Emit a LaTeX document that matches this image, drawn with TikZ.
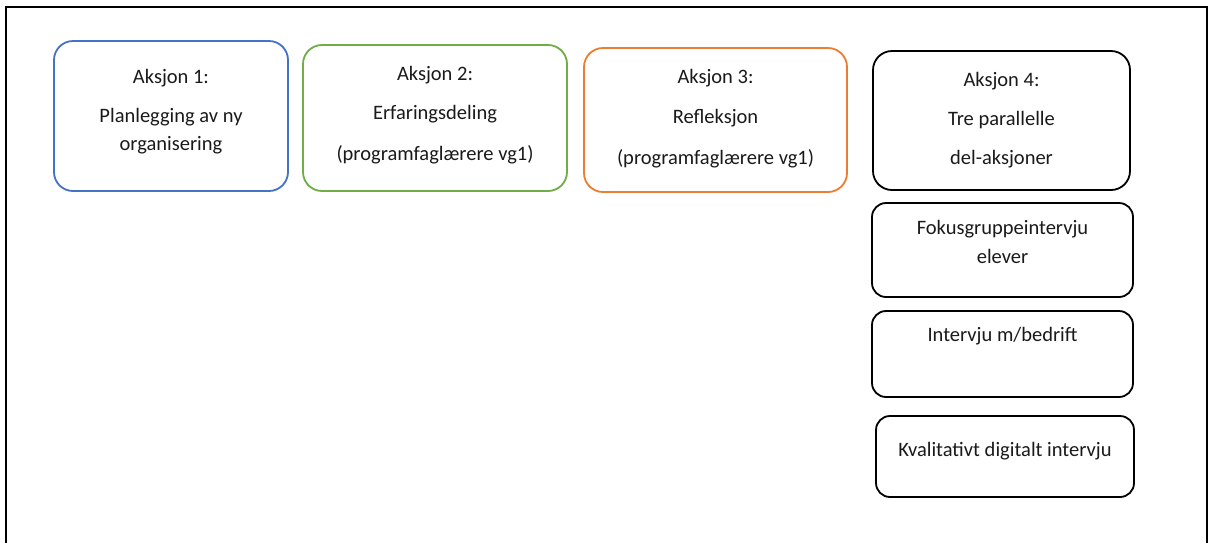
\documentclass[tikz,border=0pt]{standalone}
\usepackage{fontspec}
\setmainfont{Carlito}
\definecolor{ablue}{HTML}{4472C4}
\definecolor{agreen}{HTML}{70AD47}
\definecolor{aorange}{HTML}{ED7D31}
\definecolor{txt}{HTML}{1A1A1A}
\begin{document}
\begin{tikzpicture}[x=1pt,y=-1pt,
  boxstyle/.style={draw, line width=1.8pt, rounded corners=19pt, inner sep=0pt},
  smallbox/.style={draw, line width=1.8pt, rounded corners=14pt, inner sep=0pt},
  lbl/.style={font=\fontsize{20.5}{24}\selectfont, text=txt, anchor=mid, inner sep=0pt, yshift=-4pt}]
\useasboundingbox (0,0) rectangle (1213,542);
\draw[line width=1.4pt] (6,560) -- (6,7) -- (1207,7) -- (1207,560);
% boxes
\node[boxstyle, draw=ablue, minimum width=234pt, minimum height=150pt] (b1) at (171,116) {};
\node[boxstyle, draw=agreen, minimum width=264pt, minimum height=146pt] (b2) at (435,118) {};
\node[boxstyle, draw=aorange, minimum width=263pt, minimum height=144pt] (b3) at (715.5,120) {};
\node[boxstyle, draw=black, minimum width=257pt, minimum height=139pt] (b4) at (1001.5,120.5) {};
\node[smallbox, minimum width=261pt, minimum height=94pt] (b5) at (1002.5,250) {};
\node[smallbox, minimum width=261pt, minimum height=86pt] (b6) at (1002.5,354) {};
\node[smallbox, minimum width=258pt, minimum height=81pt] (b7) at (1005,456.5) {};
% texts
\node[lbl] (t1a) at (171,77) {Aksjon 1:};
\node[lbl] (t1b) at (171,116) {Planlegging av ny};
\node[lbl] (t1c) at (171,144) {organisering};
\node[lbl] (t2a) at (435,74) {Aksjon 2:};
\node[lbl] (t2b) at (435,113) {Erfaringsdeling};
\node[lbl] (t2c) at (435,154) {(programfaglærere vg1)};
\node[lbl] (t3a) at (715.5,77) {Aksjon 3:};
\node[lbl] (t3b) at (715.5,117) {Refleksjon};
\node[lbl] (t3c) at (715.5,158) {(programfaglærere vg1)};
\node[lbl] (t4a) at (1001.5,80) {Aksjon 4:};
\node[lbl] (t4b) at (1001.5,119) {Tre parallelle};
\node[lbl] (t4c) at (1001.5,158) {del-aksjoner};
\node[lbl] (t5a) at (1002.5,228) {Fokusgruppeintervju};
\node[lbl] (t5b) at (1002.5,257) {elever};
\node[lbl] (t6a) at (1002.5,335) {Intervju m/bedrift};
\node[lbl] (t7a) at (1005,450) {Kvalitativt digitalt intervju};
\end{tikzpicture}
\end{document}
